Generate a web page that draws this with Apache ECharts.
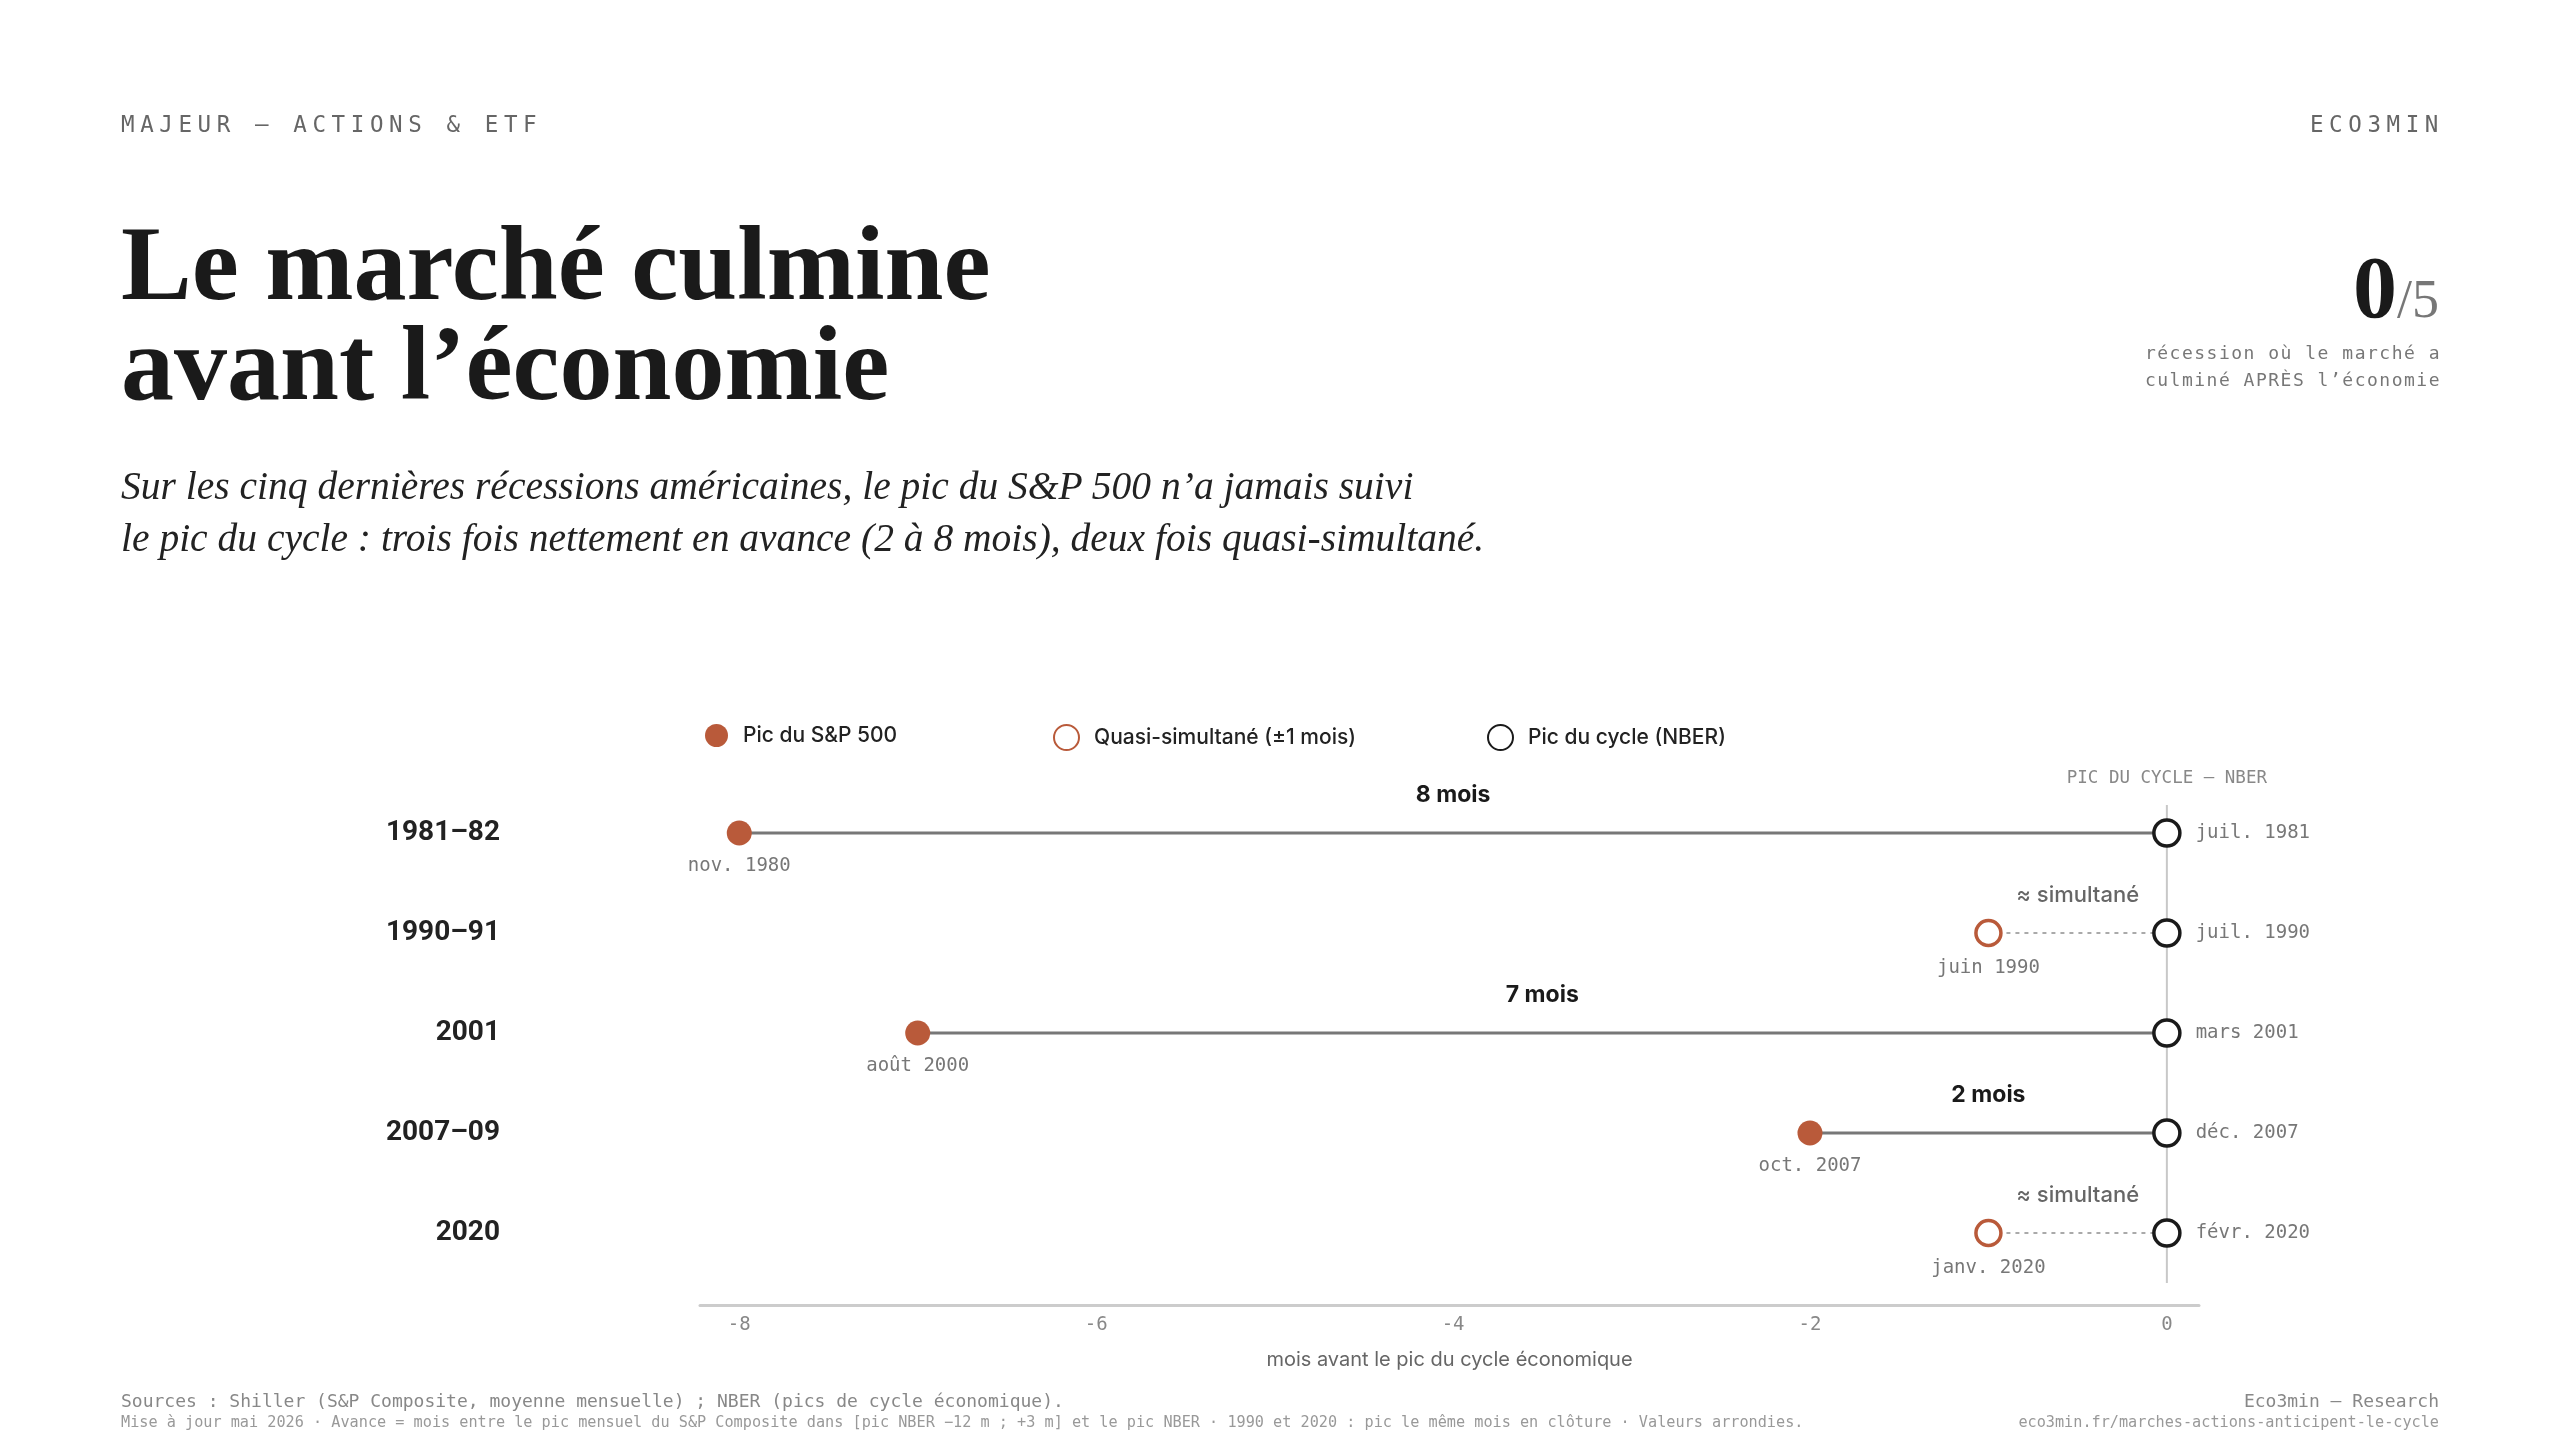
<!DOCTYPE html>
<html lang="fr">
<head>
<meta charset="utf-8">
<title>Le marché culmine avant l’économie</title>
<script src="https://cdn.jsdelivr.net/npm/echarts@6/dist/echarts.min.js"></script>
<style>
  html, body { margin:0; padding:0; background:#ffffff; }
  #page { position:relative; width:2560px; height:1440px; overflow:hidden; background:#fff; }
  #chart { position:absolute; left:0; top:0; width:2560px; height:1440px; }
  .t { position:absolute; white-space:nowrap; pointer-events:none; }
  .mono { font-family:'DejaVu Sans Mono', monospace; }
  .serif { font-family:'Liberation Serif', serif; }
</style>
</head>
<body>
<div id="page">
  <div id="chart"></div>
  <div class="t mono" style="left:121px;top:113px;font-size:22.5px;line-height:22px;letter-spacing:5.6px;color:#666;">MAJEUR — ACTIONS &amp; ETF</div>
  <div class="t mono" style="right:116px;top:113px;font-size:22.5px;line-height:22px;letter-spacing:5.6px;color:#666;">ECO3MIN</div>
  <div class="t serif" style="left:121px;top:214px;font-weight:bold;font-size:106px;line-height:100px;color:#1a1a1a;">Le marché culmine<br>avant l’économie</div>
  <div class="t serif" style="left:121px;top:460px;font-style:italic;font-size:39.5px;line-height:52px;color:#222;">Sur les cinq dernières récessions américaines, le pic du S&amp;P 500 n’a jamais suivi<br>le pic du cycle : trois fois nettement en avance (2 à 8 mois), deux fois quasi-simultané.</div>
  <div class="t serif" style="right:121px;top:244px;font-size:88px;line-height:88px;text-align:right;"><span style="font-weight:bold;color:#1a1a1a;">0</span><span style="font-size:54px;color:#777;">/5</span></div>
  <div class="t mono" style="right:119px;top:339px;font-size:18px;line-height:27px;letter-spacing:1.5px;color:#777;text-align:right;">récession où le marché a<br>culminé APRÈS l’économie</div>
  <div class="t mono" style="left:121px;top:1390px;font-size:18px;line-height:21px;color:#888;">Sources : Shiller (S&amp;P Composite, moyenne mensuelle) ; NBER (pics de cycle économique).</div>
  <div class="t mono" style="left:121px;top:1412px;font-size:15.2px;line-height:21px;color:#999;">Mise à jour mai 2026 · Avance = mois entre le pic mensuel du S&amp;P Composite dans [pic NBER −12 m ; +3 m] et le pic NBER · 1990 et 2020 : pic le même mois en clôture · Valeurs arrondies.</div>
  <div class="t mono" style="right:121px;top:1390px;font-size:18px;line-height:21px;color:#888;text-align:right;">Eco3min — Research</div>
  <div class="t mono" style="right:121px;top:1412px;font-size:15.2px;line-height:21px;color:#999;text-align:right;">eco3min.fr/marches-actions-anticipent-le-cycle</div>
</div>
<script>
// ---- Data ----
const categories = ['1981–82', '1990–91', '2001', '2007–09', '2020'];
const spPeakMonths = [-8, -1, -7, -2, -1];     // S&P 500 peak, months relative to NBER peak
const nberPeakMonths = [0, 0, 0, 0, 0];        // NBER cycle peak
const spDates = ['nov. 1980', 'juin 1990', 'août 2000', 'oct. 2007', 'janv. 2020'];
const nberDates = ['juil. 1981', 'juil. 1990', 'mars 2001', 'déc. 2007', 'févr. 2020'];
const gapLabels = ['8 mois', '≈ simultané', '7 mois', '2 mois', '≈ simultané'];
const xTickValues = [-8, -6, -4, -2, 0];
const rowIndexes = [0, 1, 2, 3, 4];

const ORANGE = '#B95A3A';
const INK = '#1a1a1a';
const SANS = 'Inter';
const MONO = 'DejaVu Sans Mono';

const leadData = [], quasiData = [];
spPeakMonths.forEach((v, i) => {
  if (Math.abs(v - nberPeakMonths[i]) <= 1) quasiData.push([v, i]); else leadData.push([v, i]);
});

const spLabel = {
  show: true, position: 'bottom', distance: 11,
  formatter: p => spDates[p.value[1]],
  fontFamily: MONO, fontSize: 19, color: '#777'
};

const chart = echarts.init(document.getElementById('chart'), null, { renderer: 'canvas' });
const legendText = { fontFamily: SANS, fontSize: 21, fontWeight: 500, color: '#222', padding: [0, 0, 0, 10] };

chart.setOption({
  animation: false,
  backgroundColor: 'transparent',
  grid: { left: 700, right: 361, top: 805, bottom: 135, containLabel: false },
  legend: [
    { data: ['Pic du S&P 500'], left: 700, top: 719, itemWidth: 23, itemHeight: 23, textStyle: legendText, selectedMode: false },
    { data: ['Quasi-simultané (±1 mois)'], left: 1048, top: 719, itemWidth: 25, itemHeight: 25, textStyle: legendText, selectedMode: false },
    { data: ['Pic du cycle (NBER)'], left: 1482, top: 719, itemWidth: 25, itemHeight: 25, textStyle: legendText, selectedMode: false }
  ],
  xAxis: {
    type: 'value', min: -8.22, max: 0.18,
    axisLine: { show: true, onZero: false, lineStyle: { color: '#cccccc', width: 3 } },
    axisTick: { show: false },
    splitLine: { show: false },
    axisLabel: { customValues: xTickValues, color: '#888', fontFamily: MONO, fontSize: 19, margin: 11 },
    name: 'mois avant le pic du cycle économique',
    nameLocation: 'middle', nameGap: 45,
    nameTextStyle: { fontFamily: SANS, fontSize: 20, color: '#666' }
  },
  yAxis: {
    type: 'value', inverse: true, min: -0.28, max: 4.72,
    axisLine: { show: false, onZero: false },
    axisTick: { show: false },
    splitLine: { show: false },
    axisLabel: {
      customValues: rowIndexes,
      formatter: v => categories[v] || '',
      margin: 200, fontFamily: 'Roboto', fontWeight: 'bold', fontSize: 28, color: '#222',
      padding: [3, 0, 0, 0]
    }
  },
  series: [
    {
      type: 'custom', z: 0, silent: true,
      data: [[nberPeakMonths[0], 0]],
      renderItem: (params, api) => {
        const top = api.coord([0, -0.28]);
        const bot = api.coord([0, 4.5]);
        const lab = api.coord([0, -0.55]);
        return { type: 'group', children: [
          { type: 'line', shape: { x1: top[0], y1: top[1], x2: bot[0], y2: bot[1] }, style: { stroke: '#c8c8c8', lineWidth: 2 } },
          { type: 'text', x: lab[0], y: lab[1], style: { text: 'PIC DU CYCLE — NBER', fill: '#888', font: '17.5px ' + MONO, align: 'center', verticalAlign: 'middle' } }
        ] };
      }
    },
    {
      type: 'custom', z: 1, silent: true,
      data: spPeakMonths.map((v, i) => [v, i, nberPeakMonths[i]]),
      renderItem: (params, api) => {
        const x1 = api.value(0), y = api.value(1), x2 = api.value(2);
        const p1 = api.coord([x1, y]), p2 = api.coord([x2, y]);
        const pm = api.coord([(x1 + x2) / 2, y]);
        const quasi = Math.abs(x2 - x1) <= 1;
        return { type: 'group', children: [
          { type: 'line', shape: { x1: p1[0], y1: p1[1], x2: p2[0], y2: p2[1] },
            style: { stroke: quasi ? '#aaaaaa' : '#777777', lineWidth: quasi ? 2 : 3, lineDash: quasi ? [4, 5] : null } },
          { type: 'text', x: pm[0], y: pm[1] - 38,
            style: { text: gapLabels[params.dataIndex], fill: quasi ? '#666' : INK,
                     font: (quasi ? '500 22px ' : 'bold 23px ') + SANS, align: 'center', verticalAlign: 'middle' } }
        ] };
      }
    },
    {
      name: 'Pic du S&P 500', type: 'scatter', z: 3, symbol: 'circle', symbolSize: 25,
      itemStyle: { color: ORANGE, opacity: 1 },
      label: spLabel, emphasis: { disabled: true },
      data: leadData
    },
    {
      name: 'Quasi-simultané (±1 mois)', type: 'scatter', z: 3, symbol: 'circle', symbolSize: 25,
      itemStyle: { color: '#ffffff', borderColor: ORANGE, borderWidth: 3.5, opacity: 1 },
      label: spLabel, emphasis: { disabled: true },
      data: quasiData
    },
    {
      name: 'Pic du cycle (NBER)', type: 'scatter', z: 3, symbol: 'circle', symbolSize: 26,
      itemStyle: { color: '#ffffff', borderColor: INK, borderWidth: 3.5, opacity: 1 },
      label: { show: true, position: 'right', distance: 14, formatter: p => nberDates[p.value[1]],
               fontFamily: MONO, fontSize: 19, color: '#777' },
      emphasis: { disabled: true },
      data: nberPeakMonths.map((v, i) => [v, i])
    }
  ]
});
</script>
</body>
</html>
